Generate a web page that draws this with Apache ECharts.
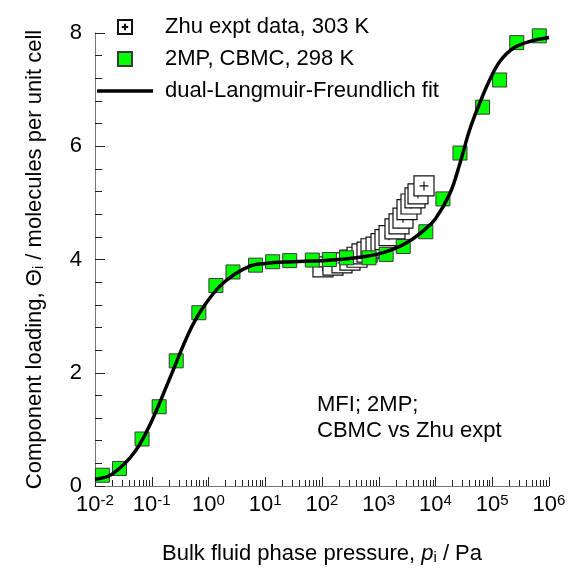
<!DOCTYPE html>
<html>
<head>
<meta charset="utf-8">
<title>2MP in MFI: CBMC vs experiment</title>
<script src="https://cdn.jsdelivr.net/npm/echarts@6/dist/echarts.min.js"></script>
<style>
  html, body { margin: 0; padding: 0; background: #fff; }
  #chart { width: 571px; height: 579px; }
</style>
</head>
<body>
<div id="chart"></div>
<script>
// Zhu et al. experimental isotherm, 303 K (pressure in Pa, loading in molecules/uc)
const zhuPressure = [104, 156, 225, 311, 414, 507, 621, 730, 895, 1096, 1289, 1517, 1933, 2275, 2675, 3147, 3700, 4355, 4920, 6270];
const zhuLoading  = [3.87, 3.90, 3.94, 3.99, 4.04, 4.10, 4.13, 4.19, 4.22, 4.28, 4.35, 4.42, 4.54, 4.63, 4.73, 4.88, 4.98, 5.09, 5.16, 5.30];

// CBMC simulations of 2-methylpentane, 298 K
const cbmcPressure = [0.0135, 0.027, 0.0675, 0.135, 0.27, 0.675, 1.35, 2.7, 6.75, 13.5, 27, 67.5, 135, 270, 675, 1350, 2700, 6750, 13500, 27000, 67500, 135000, 270000, 675000];
const cbmcLoading  = [0.19, 0.31, 0.83, 1.40, 2.21, 3.06, 3.54, 3.78, 3.90, 3.96, 3.98, 3.99, 4.00, 4.03, 4.03, 4.09, 4.23, 4.49, 5.07, 5.88, 6.69, 7.17, 7.83, 7.95];

// dual-Langmuir-Freundlich fit, sampled along the curve
const fitPressure = [0.01, 0.02, 0.05, 0.1, 0.2, 0.5, 1, 2, 5, 10, 30, 100, 400, 1000, 2000, 3800, 6000, 10000, 18000, 27000, 40000, 60000, 90000, 137000, 235000, 460000, 1000000];
const fitLoading  = [0.12, 0.21, 0.60, 1.15, 1.86, 2.80, 3.29, 3.62, 3.87, 3.93, 3.96, 3.98, 4.03, 4.10, 4.20, 4.35, 4.50, 4.72, 5.17, 5.70, 6.29, 6.76, 7.17, 7.50, 7.73, 7.85, 7.92];

// axis tick values
const yTickLabels = [0, 2, 4, 6, 8];
const xDecades = [-2, -1, 0, 1, 2, 3, 4, 5, 6];

const FONT = 'Liberation Sans, Arial, Helvetica, sans-serif';
const FS = 22;

function pairs(xs, ys) { return xs.map((x, i) => [x, ys[i]]); }

// minor ticks 2..9 x 10^n on the log axis
const xMinorTicks = [];
for (let n = xDecades[0]; n < xDecades[xDecades.length - 1]; n++) {
  for (let k = 2; k <= 9; k++) xMinorTicks.push(k * Math.pow(10, n));
}

const zhuSymbol = 'path://M0,0H20V20H0Z M10,5.5V14.5 M5.5,10H14.5';
const gridBox = { left: 95, right: 22, top: 33, bottom: 93, containLabel: false };

const chart = echarts.init(document.getElementById('chart'), null, { renderer: 'canvas' });

const option = {
  backgroundColor: '#ffffff',
  animation: false,
  textStyle: { fontFamily: FONT, color: '#000' },
  grid: [Object.assign({}, gridBox), Object.assign({}, gridBox)],
  legend: {
    orient: 'vertical',
    left: 97,
    top: 15,
    padding: 0,
    itemWidth: 56,
    itemHeight: 14,
    itemGap: 8,
    selectedMode: false,
    textStyle: { fontFamily: FONT, fontSize: FS, color: '#000', lineHeight: 24, padding: [0, 0, 0, 7] },
    data: [
      { name: 'Zhu expt data, 303 K', icon: zhuSymbol },
      { name: '2MP, CBMC, 298 K', icon: 'path://M0,0H14V14H0Z' },
      { name: 'dual-Langmuir-Freundlich fit', icon: 'path://M0,0H56V3.5H0Z' }
    ]
  },
  xAxis: [
    {
      gridIndex: 0,
      type: 'log',
      logBase: 10,
      min: 0.01,
      max: 1e6,
      splitNumber: 8,
      position: 'bottom',
      name: 'Bulk fluid phase pressure, {it|p}{sub|i} / Pa',
      nameLocation: 'middle',
      nameGap: 57,
      nameTextStyle: {
        fontFamily: FONT, fontSize: FS, color: '#000',
        rich: {
          it: { fontFamily: FONT, fontSize: FS, fontStyle: 'italic', color: '#000' },
          sub: { fontFamily: FONT, fontSize: 15, color: '#000', verticalAlign: 'bottom', lineHeight: 15, padding: [6, 0, 0, 0] }
        }
      },
      axisLine: { show: true, lineStyle: { color: '#777', width: 1 } },
      axisTick: { show: true, inside: true, length: 9, lineStyle: { color: '#222', width: 1 } },
      splitLine: { show: false },
      axisLabel: {
        margin: 7,
        formatter: function (v) {
          const e = Math.round(Math.log10(v));
          return '{b|10}{s|' + e + '}';
        },
        rich: {
          b: { fontFamily: FONT, fontSize: FS, color: '#000', lineHeight: 24 },
          s: { fontFamily: FONT, fontSize: 15, color: '#000', verticalAlign: 'top', lineHeight: 15 }
        }
      }
    },
    {
      // minor ticks of the pressure axis, drawn in an overlaid grid
      gridIndex: 1,
      type: 'log',
      logBase: 10,
      min: 0.01,
      max: 1e6,
      position: 'bottom',
      axisLine: { show: false },
      axisLabel: { show: false },
      splitLine: { show: false },
      axisTick: { show: true, inside: true, length: 6, customValues: xMinorTicks, lineStyle: { color: '#222', width: 1 } }
    }
  ],
  yAxis: [
    {
      gridIndex: 0,
      type: 'value',
      min: 0,
      max: 8,
      interval: 2,
      name: 'Component loading, \u0398{sub|i} / molecules per unit cell',
      nameLocation: 'middle',
      nameGap: 49,
      nameTextStyle: {
        fontFamily: FONT, fontSize: FS, color: '#000',
        rich: {
          sub: { fontFamily: FONT, fontSize: 15, color: '#000', verticalAlign: 'bottom', lineHeight: 15, padding: [6, 0, 0, 0] }
        }
      },
      axisLine: { show: true, lineStyle: { color: '#777', width: 1 } },
      axisTick: { show: true, inside: true, length: 10, lineStyle: { color: '#222', width: 1 } },
      minorTick: { show: true, splitNumber: 5, length: 7, lineStyle: { color: '#222', width: 1 } },
      splitLine: { show: false },
      minorSplitLine: { show: false },
      axisLabel: {
        margin: 13,
        fontFamily: FONT, fontSize: FS, color: '#000',
        formatter: function (v) { return yTickLabels.indexOf(v) >= 0 ? String(v) : ''; }
      }
    },
    {
      gridIndex: 1,
      type: 'value',
      min: 0,
      max: 8,
      show: false
    }
  ],
  graphic: [
    {
      type: 'text',
      left: 317,
      top: 392,
      z: 100,
      style: {
        text: 'MFI; 2MP;\nCBMC vs Zhu expt',
        font: FS + 'px ' + FONT,
        fill: '#000',
        lineHeight: 26
      }
    }
  ],
  series: [
    {
      name: 'Zhu expt data, 303 K',
      type: 'scatter',
      xAxisIndex: 0,
      yAxisIndex: 0,
      symbol: zhuSymbol,
      symbolSize: 20,
      z: 2,
      itemStyle: { color: '#ffffff', borderColor: '#111', borderWidth: 1.2, opacity: 1 },
      data: pairs(zhuPressure, zhuLoading)
    },
    {
      name: '2MP, CBMC, 298 K',
      type: 'scatter',
      xAxisIndex: 0,
      yAxisIndex: 0,
      symbol: 'rect',
      symbolSize: 14,
      z: 3,
      itemStyle: { color: '#00ff00', borderColor: '#3a3a3a', borderWidth: 1, opacity: 1 },
      data: pairs(cbmcPressure, cbmcLoading)
    },
    {
      name: 'dual-Langmuir-Freundlich fit',
      type: 'line',
      xAxisIndex: 0,
      yAxisIndex: 0,
      smooth: 0.4,
      showSymbol: false,
      symbol: 'none',
      z: 4,
      lineStyle: { color: '#000', width: 3.5 },
      itemStyle: { color: '#000' },
      data: pairs(fitPressure, fitLoading)
    }
  ]
};

chart.setOption(option);
</script>
</body>
</html>
